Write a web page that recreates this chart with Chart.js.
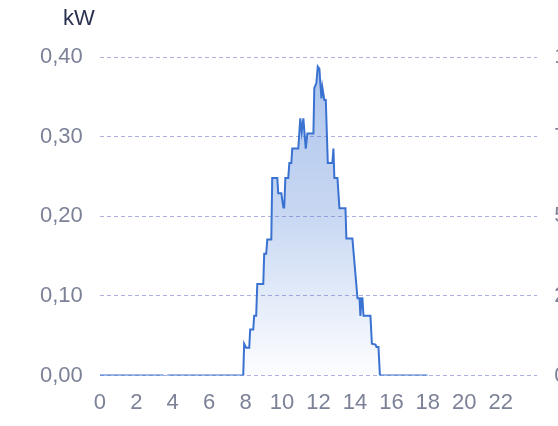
<!DOCTYPE html>
<html>
<head>
<meta charset="utf-8">
<script src="https://cdn.jsdelivr.net/npm/chart.js@4/dist/chart.umd.min.js"></script>
<style>
  html, body { margin: 0; padding: 0; background: #fff; overflow: hidden; }
  #wrap { position: relative; width: 640px; height: 426px; }
</style>
</head>
<body>
<div id="wrap"><canvas id="myChart"></canvas></div>
<script>
// time of day (hours) and power (kW)
const hours = [0, 3.5, 3.6, 3.7, 7.87, 7.92, 8.03, 8.2, 8.25, 8.42, 8.47, 8.58, 8.64, 8.97,
  9.02, 9.13, 9.19, 9.41, 9.46, 9.74, 9.79, 9.96, 10.07, 10.12, 10.18, 10.34, 10.4, 10.51,
  10.56, 10.89, 11.0, 11.08, 11.17, 11.3, 11.39, 11.72, 11.77, 11.88, 11.96, 12.05, 12.1,
  12.16, 12.21, 12.32, 12.4, 12.51, 12.76, 12.82, 12.87, 13.04, 13.15, 13.48, 13.53, 13.86,
  14.14, 14.25, 14.3, 14.36, 14.41, 14.47, 14.85, 14.93, 15.13, 15.18, 15.29, 15.37, 17.99];
const kw = [0, 0, null, 0, 0, 0.04, 0.035, 0.035, 0.058, 0.058, 0.075, 0.075, 0.115, 0.115,
  0.153, 0.153, 0.171, 0.171, 0.248, 0.248, 0.229, 0.229, 0.211, 0.211, 0.248, 0.248, 0.267, 0.267,
  0.285, 0.285, 0.323, 0.306, 0.323, 0.285, 0.304, 0.304, 0.361, 0.367, 0.388, 0.385, 0.367,
  0.348, 0.362, 0.346, 0.346, 0.267, 0.267, 0.285, 0.248, 0.248, 0.21, 0.21, 0.172, 0.172,
  0.097, 0.097, 0.075, 0.097, 0.097, 0.075, 0.075, 0.04, 0.039, 0.036, 0.036, 0, 0];
const leftTicks = [0, 0.1, 0.2, 0.3, 0.4];
const rightTicks = [0, 2.5, 5, 7.5, 10];

const lineColor = '#3a72d2';
const tickColor = '#7c8297';
const gridColor = '#adb1df';
const font = { family: '"Liberation Sans", Arial, sans-serif', size: 22 };

const axisTitles = {
  id: 'axisTitles',
  afterDraw(chart) {
    const ctx = chart.ctx;
    ctx.save();
    ctx.font = '22px "Liberation Sans", Arial, sans-serif';
    ctx.fillStyle = '#2a3150';
    ctx.textAlign = 'center';
    ctx.textBaseline = 'middle';
    ctx.fillText('kW', 79, 19);
    ctx.fillStyle = tickColor;
    ctx.textAlign = 'left';
    ctx.fillText('kWh', 560, 19);
    ctx.restore();
  }
};

const points = hours.map((h, i) => ({ x: h, y: kw[i] }));

const ctx = document.getElementById('myChart').getContext('2d');
const chart = new Chart(ctx, {
  type: 'line',
  data: {
    datasets: [{
      data: points,
      borderColor: lineColor,
      borderWidth: 2,
      pointRadius: 0,
      tension: 0,
      spanGaps: false,
      fill: 'origin',
      backgroundColor: function (context) {
        const area = context.chart.chartArea;
        if (!area) return 'rgba(58,114,210,0.3)';
        const g = context.chart.ctx.createLinearGradient(0, area.top, 0, area.bottom);
        g.addColorStop(0, 'rgba(58,114,210,0.42)');
        g.addColorStop(0.5, 'rgba(58,114,210,0.28)');
        g.addColorStop(1, 'rgba(58,114,210,0.01)');
        return g;
      },
      yAxisID: 'y'
    }, {
      // energy axis, no values shown in this view
      data: [],
      yAxisID: 'y1',
      pointRadius: 0,
      borderWidth: 0
    }]
  },
  options: {
    responsive: true,
    maintainAspectRatio: false,
    animation: false,
    layout: { padding: { left: 23, right: 26, top: 57, bottom: 4 } },
    plugins: { legend: { display: false }, tooltip: { enabled: false } },
    scales: {
      x: {
        type: 'linear',
        min: 0,
        max: 24,
        grid: { display: false },
        border: { display: false },
        ticks: {
          stepSize: 2,
          color: tickColor,
          font,
          maxRotation: 0,
          padding: 6,
          callback: v => (v === 24 ? null : v)
        }
      },
      y: {
        position: 'left',
        min: 0,
        max: 0.4,
        afterBuildTicks: axis => { axis.ticks = leftTicks.map(v => ({ value: v })); },
        grid: { color: gridColor, lineWidth: 1, drawTicks: false },
        border: { display: false, dash: [4, 3] },
        ticks: {
          color: tickColor,
          font,
          padding: 17,
          callback: v => v.toFixed(2).replace('.', ',')
        }
      },
      y1: {
        display: true,
        position: 'right',
        min: 0,
        max: 10,
        afterBuildTicks: axis => { axis.ticks = rightTicks.map(v => ({ value: v })); },
        grid: { display: false, drawTicks: false },
        border: { display: false },
        ticks: {
          color: tickColor,
          font,
          padding: 17,
          callback: v => v.toFixed(1).replace('.', ',')
        }
      }
    }
  },
  plugins: [axisTitles]
});
</script>
</body>
</html>
